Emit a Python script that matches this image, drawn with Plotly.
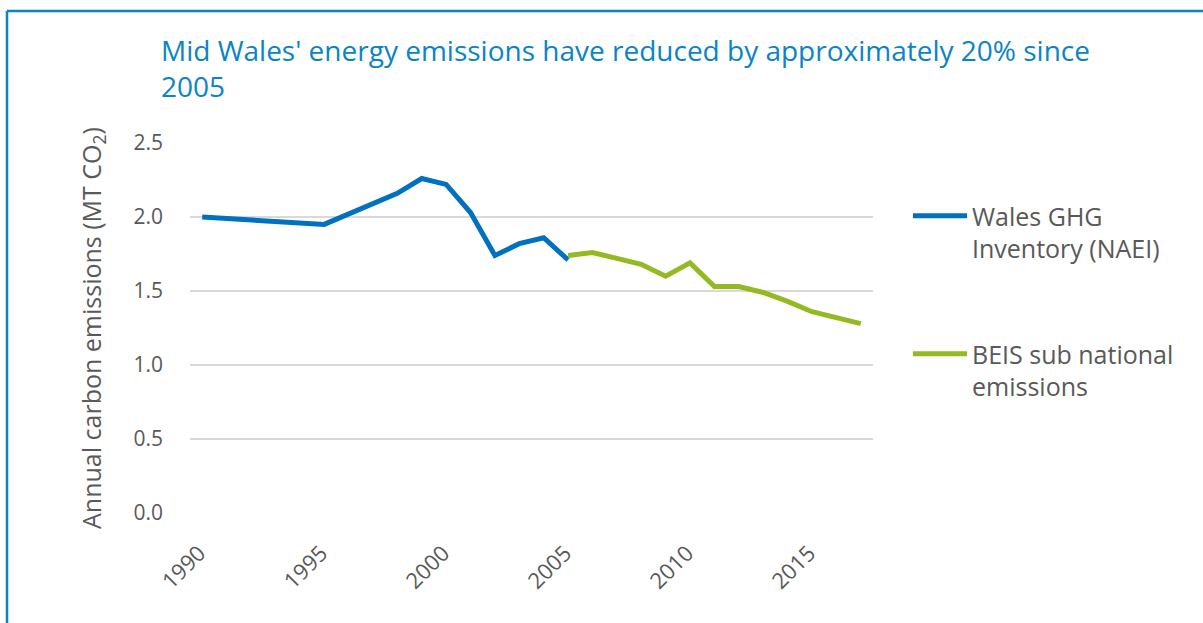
import plotly.graph_objects as go

naei_years = [1990, 1995, 1998, 1999, 2000, 2001, 2002, 2003, 2004, 2005]
naei_values = [2.00, 1.95, 2.16, 2.26, 2.22, 2.03, 1.74, 1.82, 1.86, 1.71]

beis_years = [2005, 2006, 2007, 2008, 2009, 2010, 2011, 2012, 2013, 2014, 2015, 2016, 2017]
beis_values = [1.74, 1.76, 1.72, 1.68, 1.60, 1.69, 1.53, 1.53, 1.49, 1.43, 1.36, 1.32, 1.28]

x_ticks = [1990, 1995, 2000, 2005, 2010, 2015]
y_ticks = [0.0, 0.5, 1.0, 1.5, 2.0, 2.5]

FONT = "Open Sans"
GREY = "#595959"
BLUE = "#0070C0"
GREEN = "#93BB21"
FRAME = "#0A84C6"

W, H = 1203, 623
L, R, T, B = 190, 330, 143, 110

fig = go.Figure()
fig.add_trace(go.Scatter(x=naei_years, y=naei_values, mode="lines",
                         name="Wales GHG<br>Inventory (NAEI)", legendgroup="a",
                         line=dict(color=BLUE, width=5)))
fig.add_trace(go.Scatter(x=beis_years, y=beis_values, mode="lines",
                         name="BEIS sub national<br>emissions", legendgroup="b",
                         line=dict(color=GREEN, width=5)))

pw = W - L - R
ph = H - T - B
def px(x):
    return (x - L) / pw
def py(y):
    return (H - B - y) / ph

fig.update_layout(
    width=W, height=H,
    margin=dict(l=L, r=R, t=T, b=B, autoexpand=False),
    paper_bgcolor="white", plot_bgcolor="white",
    font=dict(family=FONT, color=GREY, size=21),
    title=dict(text="Mid Wales' energy emissions have reduced by approximately 20% since<br>2005",
               font=dict(family=FONT, size=28, color=FRAME),
               x=161 / W, xanchor="left", y=1 - 61 / H, yanchor="top"),
    xaxis=dict(range=[1989.5, 2017.5], tickvals=x_ticks, ticktext=[str(v) for v in x_ticks],
               tickangle=-45, showgrid=False, zeroline=False, showline=False,
               ticks="", ticklabelstandoff=22, ticklabelshift=-3,
               tickfont=dict(size=22, color=GREY)),
    yaxis=dict(range=[0, 2.5], tickvals=y_ticks, ticktext=[f"{v:.1f}" for v in y_ticks],
               showgrid=True, gridcolor="#D9D9D9", gridwidth=1.5, zeroline=False,
               showline=False, ticks="", ticklen=0, ticklabelstandoff=26,
               tickfont=dict(size=21, color=GREY),
               title=dict(text="Annual carbon emissions (MT CO<sub>2</sub>)",
                          font=dict(size=25, color=GREY), standoff=24)),
    legend=dict(x=px(908), xanchor="left", y=py(193), yanchor="top",
                font=dict(size=25, color=GREY), valign="top", traceorder="grouped",
                tracegroupgap=70, itemwidth=54, bgcolor="rgba(0,0,0,0)"),
    showlegend=True,
    shapes=[
        dict(type="line", xref="paper", yref="paper", x0=px(7), x1=px(W + 5),
             y0=py(11), y1=py(11), line=dict(color=FRAME, width=2.5)),
        dict(type="line", xref="paper", yref="paper", x0=px(7), x1=px(7),
             y0=py(11), y1=py(H + 5), line=dict(color=FRAME, width=2.5)),
    ],
)

fig.write_html("out.html", config={"displayModeBar": False},
               post_script="document.body.style.margin='0';document.body.style.overflow='hidden';")
